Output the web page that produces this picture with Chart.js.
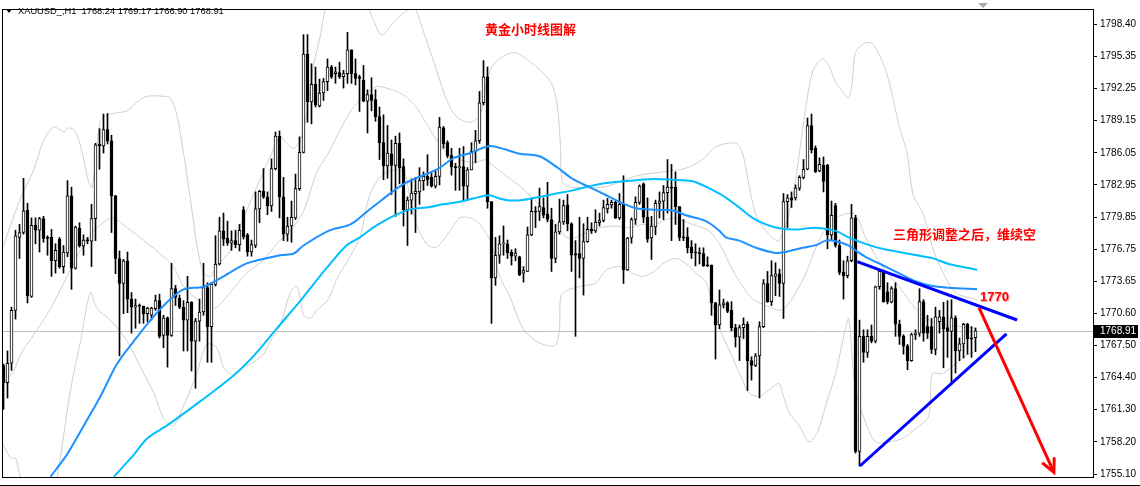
<!DOCTYPE html>
<html><head><meta charset="utf-8">
<script src="https://cdn.jsdelivr.net/npm/chart.js@4.4.1/dist/chart.umd.min.js"></script>
<style>html,body{margin:0;padding:0;background:#fff;}canvas{display:block;}</style>
</head><body>
<canvas id="c" width="1140" height="486"></canvas>
<script>
// ---- data ----
const symbolTitle = "XAUUSD_,H1  1768.24 1769.17 1766.90 1768.91";
const lastPrice = 1768.91;
const tickValues = [1798.40,1795.35,1792.25,1789.15,1786.05,1782.95,1779.85,1776.75,1773.65,1770.60,1767.50,1764.40,1761.30,1758.20,1755.10];
const openP = [1765.56,1763.90,1765.78,1770.87,1777.90,1778.37,1780.52,1772.21,1779.06,1778.59,1779.71,1777.90,1777.90,1775.65,1777.74,1775.09,1776.40,1781.90,1774.93,1778.78,1777.09,1777.65,1777.53,1779.71,1786.87,1786.71,1788.28,1787.21,1781.90,1775.87,1773.46,1775.65,1771.96,1771.18,1771.34,1771.28,1770.56,1770.40,1771.03,1771.81,1768.46,1770.15,1768.46,1772.96,1772.03,1771.18,1769.93,1771.65,1767.90,1769.84,1770.71,1773.06,1769.31,1773.37,1775.34,1778.53,1777.81,1777.34,1777.59,1777.21,1780.56,1778.15,1776.49,1777.12,1780.65,1782.34,1781.81,1780.93,1784.53,1787.65,1781.81,1778.21,1779.00,1779.78,1782.59,1786.09,1795.56,1790.96,1792.65,1790.56,1791.81,1792.90,1794.31,1793.68,1793.78,1793.37,1793.68,1795.96,1793.68,1793.37,1793.06,1791.03,1791.65,1791.18,1789.53,1787.03,1784.78,1785.96,1784.84,1786.96,1784.71,1780.56,1781.49,1782.12,1782.28,1783.37,1783.78,1783.68,1782.84,1783.78,1788.46,1787.03,1785.78,1784.71,1784.62,1784.71,1782.84,1784.40,1786.18,1787.21,1790.87,1793.37,1781.34,1774.00,1776.18,1777.28,1777.28,1776.49,1776.09,1776.03,1774.46,1774.62,1778.15,1780.40,1780.40,1780.78,1780.15,1779.62,1775.87,1778.43,1779.40,1781.03,1779.21,1776.34,1776.34,1775.87,1777.49,1778.68,1778.53,1779.31,1779.53,1780.65,1781.03,1781.28,1779.78,1781.09,1774.77,1777.84,1779.62,1781.28,1783.06,1779.84,1777.84,1778.90,1781.18,1781.40,1782.21,1782.74,1782.74,1780.87,1777.96,1777.96,1776.96,1776.49,1776.40,1776.34,1775.24,1775.24,1771.59,1769.46,1771.40,1771.59,1770.87,1769.21,1768.28,1769.21,1769.53,1766.03,1765.56,1766.49,1769.31,1773.46,1771.71,1774.15,1774.40,1773.46,1781.34,1781.71,1781.71,1782.65,1783.68,1784.46,1788.68,1786.49,1784.31,1784.84,1784.84,1778.15,1780.96,1777.12,1774.53,1774.21,1775.65,1779.78,1757.28,1768.37,1766.81,1768.37,1767.90,1773.15,1774.62,1772.65,1771.65,1772.96,1769.53,1768.37,1767.43,1766.03,1768.53,1768.68,1771.71,1769.31,1769.31,1767.12,1769.78,1770.24,1769.21,1768.84,1770.15,1766.96,1767.65,1769.53,1768.15,1768.24];
const highP = [1765.71,1766.96,1771.18,1778.59,1779.15,1783.59,1781.18,1779.78,1779.78,1779.84,1779.93,1778.06,1778.68,1777.28,1777.90,1777.12,1783.37,1782.74,1778.99,1779.31,1778.15,1777.90,1781.09,1786.96,1788.37,1789.78,1789.84,1787.74,1781.96,1776.59,1775.78,1776.49,1772.59,1771.96,1771.49,1771.28,1771.18,1771.18,1772.34,1772.43,1770.40,1770.24,1775.40,1773.28,1772.34,1771.81,1774.15,1771.71,1770.09,1771.96,1775.40,1773.53,1773.53,1778.06,1779.84,1780.24,1779.46,1778.53,1778.59,1779.15,1780.87,1778.28,1777.65,1782.28,1782.43,1784.53,1782.28,1785.46,1788.06,1788.15,1783.68,1779.84,1781.40,1784.00,1787.59,1797.43,1797.43,1794.62,1794.31,1793.15,1793.21,1795.09,1794.46,1794.31,1794.78,1793.99,1797.65,1795.96,1795.09,1793.53,1794.46,1792.12,1793.28,1792.12,1790.46,1789.71,1788.68,1787.28,1787.65,1787.96,1785.46,1781.81,1783.53,1783.68,1784.62,1784.21,1785.87,1784.15,1784.31,1789.46,1788.59,1787.21,1786.49,1785.03,1786.49,1786.65,1784.62,1787.03,1788.21,1791.96,1794.93,1794.31,1781.34,1777.90,1778.06,1779.00,1777.65,1776.71,1776.81,1776.09,1775.09,1778.90,1781.59,1780.87,1782.65,1781.71,1783.21,1780.71,1779.15,1781.59,1781.49,1782.03,1779.31,1777.59,1779.84,1779.21,1779.84,1779.31,1780.56,1780.24,1781.49,1781.65,1781.49,1781.40,1782.12,1783.84,1777.90,1779.78,1781.81,1782.96,1783.15,1781.71,1779.93,1781.49,1782.28,1782.90,1785.40,1784.93,1784.21,1780.87,1779.62,1778.84,1777.59,1777.28,1776.90,1776.90,1776.03,1775.24,1771.65,1772.84,1771.96,1771.71,1771.71,1769.53,1769.46,1770.15,1769.78,1766.40,1766.71,1769.78,1773.84,1774.62,1775.65,1775.46,1774.84,1782.12,1782.03,1782.28,1782.96,1783.84,1785.40,1789.40,1789.78,1786.71,1785.56,1785.65,1784.93,1781.40,1781.18,1777.65,1775.65,1776.09,1781.09,1780.03,1769.93,1769.00,1769.00,1769.46,1773.21,1774.78,1774.62,1773.53,1773.15,1773.53,1769.93,1768.53,1767.59,1768.68,1769.00,1772.96,1771.90,1770.40,1770.09,1771.18,1770.87,1771.65,1771.81,1771.90,1770.34,1768.21,1769.62,1769.62,1769.31,1769.17];
const lowP = [1761.34,1762.43,1765.09,1770.03,1775.87,1778.21,1771.59,1772.12,1777.28,1776.49,1777.43,1776.18,1774.15,1774.46,1774.93,1774.46,1776.03,1772.90,1774.84,1776.96,1776.18,1777.28,1775.09,1777.59,1784.46,1786.03,1786.90,1778.37,1774.40,1766.49,1770.56,1770.65,1768.68,1769.15,1769.62,1769.62,1769.78,1769.93,1770.87,1768.21,1767.28,1765.40,1768.37,1771.34,1771.03,1766.96,1766.96,1765.03,1763.37,1767.90,1770.40,1765.87,1765.87,1773.21,1775.24,1777.12,1777.12,1776.65,1776.90,1776.59,1777.74,1776.09,1776.09,1776.90,1779.31,1781.65,1780.09,1780.40,1784.40,1779.78,1777.59,1777.53,1777.43,1779.62,1782.43,1786.03,1788.99,1788.84,1790.46,1790.46,1791.09,1792.03,1793.21,1792.74,1793.21,1792.28,1792.74,1792.74,1792.59,1790.03,1790.96,1787.96,1790.09,1789.09,1785.40,1783.46,1783.59,1782.03,1779.93,1783.06,1779.00,1777.12,1780.15,1778.37,1781.09,1782.43,1782.90,1782.74,1782.65,1782.96,1786.49,1785.56,1783.90,1782.43,1782.43,1781.34,1781.49,1784.40,1785.09,1786.96,1790.65,1780.71,1769.62,1773.28,1775.40,1776.18,1775.87,1775.24,1775.65,1774.21,1773.59,1774.62,1778.06,1778.84,1779.53,1779.78,1779.40,1774.62,1775.46,1778.21,1779.15,1778.53,1774.62,1768.37,1774.00,1772.34,1777.43,1778.28,1778.37,1779.00,1779.40,1780.24,1780.71,1779.71,1779.62,1773.46,1774.71,1777.34,1779.15,1781.09,1779.31,1777.43,1775.77,1778.15,1779.78,1779.62,1780.24,1777.59,1779.15,1777.59,1777.59,1776.40,1775.87,1775.15,1775.34,1775.09,1775.09,1770.40,1766.18,1769.09,1771.09,1770.65,1768.90,1767.34,1766.03,1768.15,1763.15,1764.15,1765.46,1762.43,1769.21,1771.65,1771.34,1772.28,1772.21,1770.09,1778.84,1780.78,1781.49,1782.43,1783.53,1784.40,1786.03,1784.15,1784.21,1782.28,1776.81,1777.59,1776.96,1774.31,1771.96,1774.00,1775.56,1757.12,1755.87,1765.87,1766.34,1767.74,1767.74,1772.90,1771.65,1771.49,1771.59,1768.37,1767.59,1766.65,1765.15,1765.96,1768.06,1768.37,1767.90,1768.15,1766.71,1766.59,1768.68,1765.34,1766.34,1763.99,1764.84,1766.03,1766.28,1766.65,1766.34,1766.90];
const closeP = [1763.90,1765.78,1770.87,1778.06,1778.37,1780.46,1772.28,1779.06,1778.59,1779.71,1777.81,1777.81,1775.65,1776.65,1775.09,1776.49,1781.90,1774.93,1778.90,1777.09,1777.65,1777.59,1779.71,1786.81,1786.71,1788.28,1787.21,1781.90,1775.87,1773.46,1775.65,1771.96,1771.18,1771.34,1771.28,1770.56,1771.09,1771.09,1771.81,1768.37,1770.15,1768.46,1772.96,1772.12,1771.18,1769.93,1771.65,1767.90,1769.84,1770.71,1773.06,1769.31,1773.37,1775.34,1778.53,1777.74,1777.34,1777.59,1777.21,1778.59,1777.96,1776.49,1777.21,1780.65,1782.34,1781.81,1780.93,1784.53,1787.65,1781.81,1778.21,1779.00,1779.84,1782.59,1786.09,1795.56,1790.96,1792.65,1790.65,1791.81,1792.90,1794.31,1793.37,1793.84,1793.37,1793.68,1795.96,1793.68,1793.21,1793.21,1791.03,1791.65,1791.09,1789.53,1787.03,1784.78,1786.03,1784.84,1786.96,1784.62,1780.56,1781.49,1782.18,1782.34,1783.37,1783.78,1783.46,1782.84,1783.78,1788.53,1786.90,1785.78,1784.71,1784.62,1784.71,1782.84,1784.40,1786.18,1787.21,1790.87,1793.37,1781.34,1774.00,1776.18,1777.28,1777.33,1776.40,1776.09,1776.40,1774.31,1774.71,1778.15,1780.40,1780.34,1780.87,1780.03,1779.62,1775.87,1778.43,1779.40,1780.96,1779.21,1776.18,1776.18,1775.87,1777.49,1778.68,1778.53,1779.37,1779.53,1780.78,1781.09,1781.28,1779.78,1781.09,1774.77,1777.84,1779.62,1781.28,1782.84,1779.84,1777.74,1779.00,1781.18,1781.40,1782.21,1782.74,1782.65,1780.87,1777.90,1777.84,1776.90,1776.40,1776.40,1776.34,1775.15,1775.15,1771.59,1769.46,1771.40,1771.59,1770.78,1769.21,1768.28,1769.21,1769.53,1766.03,1765.56,1766.49,1769.31,1773.46,1771.71,1774.21,1774.40,1773.46,1781.34,1781.71,1781.49,1782.65,1783.68,1784.46,1788.68,1786.34,1784.21,1784.93,1783.28,1778.15,1780.03,1777.12,1774.53,1774.21,1775.65,1779.78,1757.28,1768.37,1766.81,1768.37,1767.90,1773.15,1774.62,1771.71,1771.71,1772.96,1769.53,1768.37,1767.43,1766.03,1768.53,1768.68,1771.71,1768.68,1768.68,1767.12,1770.24,1770.24,1769.09,1768.84,1770.15,1766.96,1767.65,1769.53,1768.15,1768.12,1768.91];
// moving averages [bar index, price]
const maFast = [[11.75,1754.85],[15.9,1757.0],[20.1,1759.79],[24.25,1762.6],[28.4,1765.72],[32.6,1767.91],[36.75,1769.94],[40.9,1771.66],[45,1772.9],[50,1773.15],[55,1774.15],[60.8,1775.4],[69.2,1776.18],[72.6,1776.35],[75,1777.12],[81.25,1778.53],[86.75,1779.16],[90.9,1780.4],[94.25,1781.41],[100.1,1783.06],[108.4,1784.46],[112.6,1785.56],[116.75,1786.03],[121.5,1786.71],[125.7,1786.34],[129,1785.96],[134,1785.71],[138.2,1784.71],[142.3,1783.53],[146.5,1782.74],[150.7,1781.96],[154.8,1781.18],[158.2,1780.71],[162.75,1780.56],[167.25,1780.5],[170.6,1780.03],[175.6,1779.46],[179,1778.53],[180.6,1777.9],[183.9,1777.59],[188.1,1776.9],[193.1,1776.4],[195.6,1776.5],[199.75,1776.9],[203.5,1777.2],[205.5,1777.59],[208,1777.53],[211.3,1777.12],[213,1776.65],[215.5,1776.03],[219.7,1775.24],[223.8,1774.46],[228,1773.68],[232.2,1773.21],[236.3,1773.06],[243.4,1772.9]];
const maSlow = [[27.6,1754.85],[32.6,1756.97],[35.9,1758.54],[40.9,1759.79],[49.25,1762.13],[57.6,1764.63],[62.6,1766.51],[68.4,1769.16],[74.25,1771.81],[80.75,1774.93],[85.75,1777.12],[89.1,1777.9],[92.4,1778.84],[95.75,1779.62],[99.1,1780.24],[102.4,1780.65],[105.75,1780.78],[109.9,1781.09],[114.1,1781.34],[117.4,1781.65],[121.5,1781.96],[124,1781.65],[126.5,1781.46],[129.8,1781.5],[134,1781.8],[138.2,1782.12],[142.3,1782.43],[146.5,1782.84],[150.7,1783.15],[154.8,1783.3],[159,1783.43],[162.75,1783.53],[170.6,1783.37],[173.1,1783.21],[179,1782.12],[183.1,1781.03],[187.25,1779.78],[190.6,1779.15],[193.9,1778.78],[198.1,1778.65],[203,1778.84],[208,1778.53],[211.3,1777.9],[215.5,1777.28],[219.7,1776.8],[223.8,1776.5],[228,1776.2],[232.2,1775.9],[236.3,1775.34],[243.4,1774.78]];
// bollinger bands [bar index, price]
const bbUpper = [[-0.75,1776.34],[4.25,1781.65],[7.6,1784.46],[10.1,1787.28],[12.6,1788.53],[15.1,1788.06],[16.3,1788.46],[18,1788.06],[19.7,1786.03],[21.3,1783.21],[22.2,1782.74],[24.25,1789.15],[26.75,1789.78],[30.9,1790.09],[33.4,1790.96],[35.9,1791.49],[40.1,1791.49],[41.7,1791.34],[43.3,1789.78],[45,1786.03],[46.7,1781.65],[48.3,1777.28],[50,1774.46],[51.7,1774.15],[53.3,1775.09],[56.7,1776.65],[60,1779.78],[64.2,1783.53],[66.7,1785.71],[69.2,1787.59],[70.8,1786.96],[72.5,1786.49],[74.2,1787.28],[75.8,1789.78],[77.5,1794.46],[79.2,1797.28],[81,1800.5],[85,1802],[90,1801],[92,1799.3],[94.5,1797.4],[97.5,1798.6],[100,1799.5],[102.5,1800.1],[105.1,1797.59],[108.4,1793.84],[110.9,1791.03],[113.4,1789.47],[116.75,1789.0],[119.25,1789.78],[120.5,1792.28],[122.6,1794.62],[127.6,1795.71],[131.75,1794.78],[136.75,1792.9],[138.4,1790.71],[139.25,1786.65],[139.7,1783.22],[141.75,1782.75],[150.1,1782.75],[158.4,1783.84],[166.75,1784.31],[170.9,1784.6],[175.1,1785.5],[178.1,1786.65],[183.1,1786.96],[184.75,1786.03],[186.4,1782.9],[188.1,1780.09],[190.6,1778.53],[193.9,1777.59],[197.25,1781.65],[199.75,1788.21],[202.25,1793.84],[204.7,1795.09],[206.3,1794.46],[208,1792.9],[209.7,1791.96],[211.3,1791.34],[212.2,1792.9],[213,1795.71],[215.5,1796.65],[217.4,1796.49],[220.7,1793.84],[224,1788.5],[225.9,1786.03],[227.4,1782.0],[229.9,1780.2],[232.2,1777.0],[234.5,1774.8],[238,1772.6],[243.3,1771.9]];
const bbMiddle = [[-0.75,1763.5],[2.6,1765.09],[4.25,1766.65],[7.6,1768.53],[11.75,1771.03],[15.9,1774.15],[19.25,1776.65],[22.6,1778.53],[25.9,1779.62],[27.6,1779.78],[30.9,1778.84],[35.1,1777.59],[40.1,1776.03],[42.5,1775.09],[45,1773.21],[48.3,1771.96],[52.5,1771.03],[56.7,1772.59],[60.8,1774.46],[65,1775.71],[68.3,1777.28],[71.7,1778.53],[75,1780.4],[78.3,1784.15],[81.25,1786.03],[84.1,1788.21],[87.4,1790.4],[91.6,1791.96],[93.25,1792.43],[95.75,1792.28],[99.9,1791.65],[103.25,1790.4],[105.75,1788.84],[108.25,1787.28],[110.75,1786.03],[114.1,1785.4],[117.4,1785.09],[120.75,1785.4],[121.5,1785.09],[125.7,1783.84],[129.8,1782.59],[134,1781.03],[138.2,1779.15],[140.7,1777.9],[143.2,1777.9],[146.5,1778.53],[149,1778.84],[153.2,1779.0],[156.5,1778.84],[159.8,1779.15],[162.75,1779.15],[167.25,1779.78],[172.25,1779.15],[176.4,1778.53],[179,1777.28],[182.25,1774.78],[184.75,1773.21],[187.25,1771.96],[190.6,1771.34],[193.9,1770.87],[195.6,1771.18],[198.1,1772.59],[200.6,1774.46],[203.5,1777.28],[206.3,1779.15],[209.7,1780.09],[213,1780.09],[215.5,1777.9],[219.7,1775.09],[223.8,1773.21],[228,1771.03],[232.2,1769.78],[236.3,1769.46],[243.4,1769.15]];
const bbLower = [[-0.75,1758.5],[1.75,1756.65],[3,1756.65],[4.25,1754.78],[7,1752],[11,1751],[13.4,1754.78],[16.75,1763.2],[19.25,1767.9],[21.75,1772.59],[23.4,1771.03],[26.75,1769.93],[30.9,1767.9],[34.25,1765.4],[37.6,1762.9],[40.1,1760.4],[42.5,1759.78],[45,1761.65],[48.3,1764.78],[50.8,1767.59],[53.3,1767.28],[55,1765.4],[57.5,1764.62],[60,1765.4],[62.5,1765.87],[65,1766.65],[66.7,1767.9],[69.2,1769.46],[71.7,1772.59],[73.3,1773.21],[74.2,1771.96],[75,1770.4],[76.7,1770.09],[78.3,1770.87],[81.25,1771.96],[83.25,1773.84],[86.6,1776.03],[89.1,1777.9],[91.6,1782],[95,1784],[99.9,1784.3],[101.6,1781.65],[103.25,1779.15],[105.75,1777.28],[108.25,1776.96],[111.6,1778.53],[114.1,1779.78],[116.6,1779.78],[119.1,1779.15],[122,1777.28],[124,1774.15],[126.5,1772.28],[129.8,1769.15],[133.2,1767.9],[136.5,1767.43],[138.2,1767.59],[139,1769.15],[139.4,1772.28],[141.5,1772.9],[144.8,1773.21],[148.2,1773.53],[150.7,1774.78],[154.8,1775.09],[157.3,1774.46],[159.8,1774.15],[162.5,1774.6],[165.6,1775.56],[168.1,1775.87],[170.6,1775.4],[173.1,1774.46],[175.6,1773.59],[179,1769.15],[182.25,1766.34],[184.75,1764.15],[186.4,1762.9],[188.9,1762.59],[191.4,1763.21],[193.9,1763.84],[194.75,1762.9],[196.4,1761.03],[198.9,1759.78],[201.4,1758.21],[203.5,1759.15],[205.5,1761.65],[208,1764.78],[210.5,1769.15],[211.3,1770.09],[213,1763.2],[215.5,1760.09],[218,1758.21],[221.3,1758.21],[224.7,1758.53],[228,1759.46],[231.3,1760.71],[232.2,1764.78],[234.7,1764.78],[238,1765.71],[241.3,1766.65],[243.4,1766.96]];
// hand-drawn objects [bar index, price]
const trendUpper = [[213.4,1775.56],[253.4,1769.94]];
const trendLower = [[214.1,1755.88],[250.75,1768.60]];
const arrowLine = [[243.9,1771.10],[262.6,1755.26]];
const textTitle = {text:"黄金小时线图解", x:131.75, y:1798.0};
const textNote = {text:"三角形调整之后，维续空", x:240.25, y:1778.25};
const textLevel = {text:"1770", x:247.75, y:1772.16};

// ---- build ----
const idx = openP.map((_, i) => i);
const pts = arr => arr.map(p => ({x: p[0], y: p[1]}));
const wickData = idx.map(i => ({x: i, y: [lowP[i], highP[i]]}));
const bodyData = idx.map(i => ({x: i, y: [openP[i], closeP[i]]}));
const bodyFill = idx.map(i => closeP[i] >= openP[i] ? '#ffffff' : '#000000');

const lineDs = (data, color, width, order, tension) => ({
  type: 'line', data: pts(data), borderColor: color, borderWidth: width,
  pointRadius: 0, tension: tension, fill: false, order: order, clip: 0
});

const overlay = {
  id: 'overlay',
  beforeDatasetsDraw(chart) {
    const {ctx, chartArea: a, scales: {y}} = chart;
    const py = Math.round(y.getPixelForValue(lastPrice)) + 0.5;
    ctx.save();
    ctx.strokeStyle = '#c0c0c0'; ctx.lineWidth = 1;
    ctx.beginPath(); ctx.moveTo(a.left, py); ctx.lineTo(a.right, py); ctx.stroke();
    ctx.restore();
  },
  afterDatasetsDraw(chart) {
    const {ctx, chartArea: a, scales: {x, y}} = chart;
    ctx.save();
    // arrow head
    const x0 = x.getPixelForValue(arrowLine[0][0]), y0 = y.getPixelForValue(arrowLine[0][1]);
    const x1 = x.getPixelForValue(arrowLine[1][0]), y1 = y.getPixelForValue(arrowLine[1][1]);
    const ang = Math.atan2(y1 - y0, x1 - x0);
    ctx.strokeStyle = '#ff0000'; ctx.lineWidth = 3; ctx.lineCap = 'round';
    ctx.beginPath();
    ctx.moveTo(x1 - 14 * Math.cos(ang - 0.45), y1 - 14 * Math.sin(ang - 0.45));
    ctx.lineTo(x1, y1);
    ctx.lineTo(x1 - 14 * Math.cos(ang + 0.45), y1 - 14 * Math.sin(ang + 0.45));
    ctx.stroke();
    // texts
    ctx.fillStyle = '#ff0000';
    ctx.textAlign = 'center'; ctx.textBaseline = 'middle';
    ctx.font = 'bold 13px "Noto Sans CJK SC"';
    ctx.fillText(textTitle.text, x.getPixelForValue(textTitle.x), y.getPixelForValue(textTitle.y));
    ctx.fillText(textNote.text, x.getPixelForValue(textNote.x), y.getPixelForValue(textNote.y));
    ctx.font = 'bold 13px "Liberation Sans"';
    ctx.fillStyle = 'rgba(255,150,150,0.8)';
    ctx.fillText(textLevel.text, x.getPixelForValue(textLevel.x) + 1, y.getPixelForValue(textLevel.y) + 1);
    ctx.fillStyle = '#ff0000';
    ctx.fillText(textLevel.text, x.getPixelForValue(textLevel.x), y.getPixelForValue(textLevel.y));
    // symbol title
    ctx.fillStyle = '#000';
    ctx.beginPath(); ctx.moveTo(6, 9); ctx.lineTo(12, 9); ctx.lineTo(9, 13); ctx.closePath(); ctx.fill();
    ctx.textAlign = 'left';
    ctx.font = '9.3px "Liberation Sans"';
    ctx.fillText(symbolTitle, 18, 11);
    // shift marker
    ctx.fillStyle = '#a8a8a8';
    ctx.beginPath(); ctx.moveTo(978, 3); ctx.lineTo(988, 3); ctx.lineTo(983, 8); ctx.closePath(); ctx.fill();
    ctx.restore();
  },
  afterDraw(chart) {
    const {ctx, chartArea: a, scales: {y}} = chart;
    ctx.save();
    ctx.strokeStyle = '#000'; ctx.lineWidth = 1;
    ctx.strokeRect(a.left + 0.5, a.top + 0.5, a.right - a.left, a.bottom - a.top);
    ctx.beginPath(); ctx.moveTo(0, 485.5); ctx.lineTo(1140, 485.5); ctx.stroke();
    const py = y.getPixelForValue(lastPrice);
    ctx.fillStyle = '#000';
    ctx.fillRect(a.right + 1, Math.round(py) - 6, 44, 13);
    ctx.fillStyle = '#fff';
    ctx.font = '10px "Liberation Sans"'; ctx.textBaseline = 'middle'; ctx.textAlign = 'left';
    ctx.fillText(lastPrice.toFixed(2), 1100, Math.round(py) + 0.5);
    ctx.restore();
  }
};

new Chart(document.getElementById('c'), {
  type: 'bar',
  data: {
    datasets: [
      lineDs(bbUpper, '#cfcfcf', 1, 10, 0.3),
      lineDs(bbMiddle, '#cfcfcf', 1, 10, 0.3),
      lineDs(bbLower, '#cfcfcf', 1, 10, 0.3),
      {type: 'bar', data: wickData, backgroundColor: '#000', barThickness: 1, grouped: false, order: 8, minBarLength: 1},
      {type: 'bar', data: bodyData, backgroundColor: bodyFill, borderColor: '#000', borderWidth: 1, borderSkipped: false, barThickness: 3, grouped: false, order: 7, minBarLength: 1},
      lineDs(maFast, 'rgb(30,144,255)', 2, 5, 0.3),
      lineDs(maSlow, 'rgb(0,191,255)', 2, 5, 0.3),
      lineDs(trendUpper, '#0000ff', 3, 2, 0),
      lineDs(trendLower, '#0000ff', 3, 2, 0),
      lineDs(arrowLine, '#ff0000', 3, 1, 0)
    ]
  },
  options: {
    responsive: false, animation: false, devicePixelRatio: 1,
    layout: {padding: {left: 2, top: 2, right: 0, bottom: 3}},
    plugins: {legend: {display: false}, tooltip: {enabled: false}},
    scales: {
      x: {type: 'linear', display: false, min: -0.375, max: 272.375, offset: false, grid: {display: false}},
      y: {
        position: 'right', min: 1754.82, max: 1799.90,
        afterBuildTicks: s => { s.ticks = tickValues.map(v => ({value: v})); },
        afterFit: s => { s.width = 47; },
        grid: {display: true, drawOnChartArea: false, drawTicks: true, tickLength: 4, color: '#000'},
        border: {display: true, color: '#000'},
        ticks: {padding: 3, color: '#000', font: {family: 'Liberation Sans', size: 10},
                callback: v => Number(v).toFixed(2), autoSkip: false}
      }
    }
  },
  plugins: [overlay]
});
</script>
</body></html>
